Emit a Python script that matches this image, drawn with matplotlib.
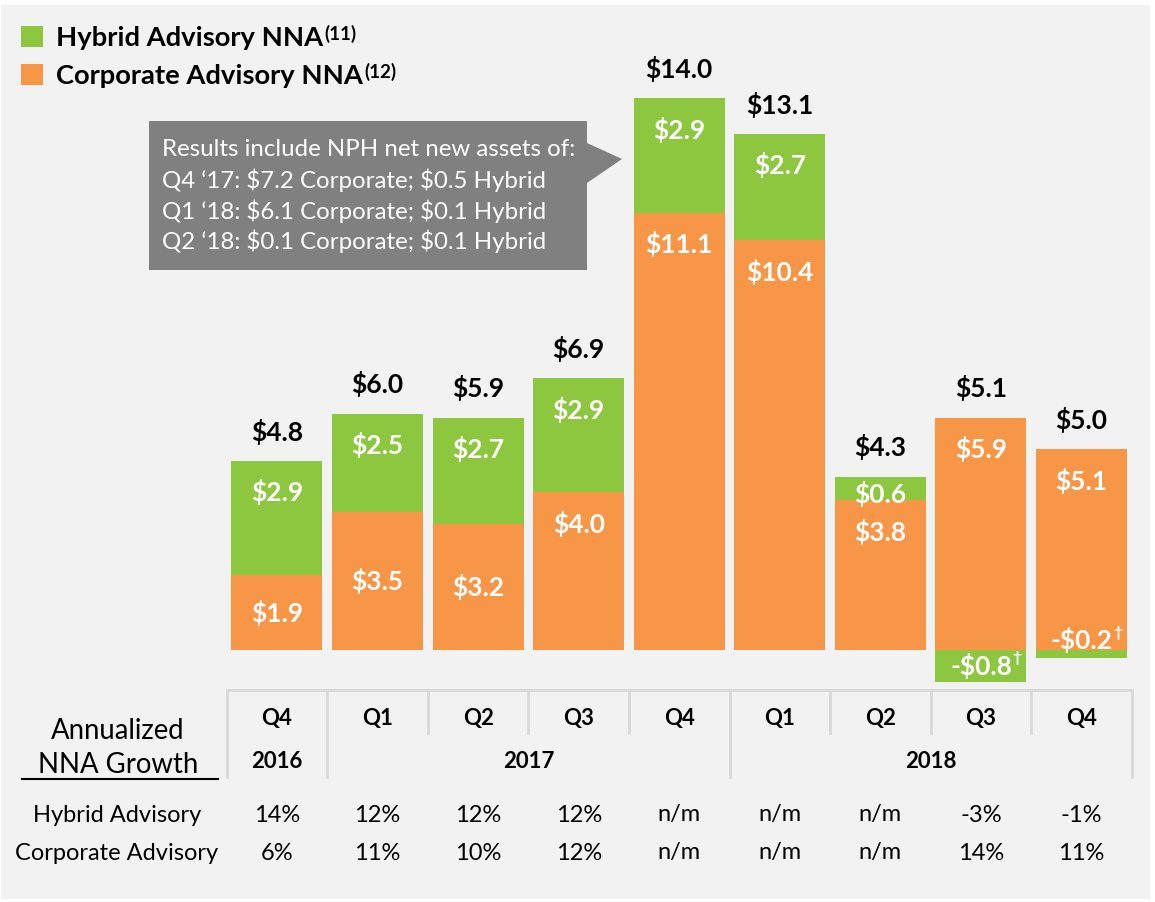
import matplotlib
matplotlib.use('Agg')
import matplotlib.pyplot as plt
from matplotlib.patches import Rectangle, Polygon
from matplotlib import transforms

plt.rcParams['font.family'] = ['Lato', 'DejaVu Sans']
plt.rcParams['text.parse_math'] = False

# data
quarters = ['Q4', 'Q1', 'Q2', 'Q3', 'Q4', 'Q1', 'Q2', 'Q3', 'Q4']
years = ['2016', '2017', '2017', '2017', '2017', '2018', '2018', '2018', '2018']
corporate = [1.9, 3.5, 3.2, 4.0, 11.1, 10.4, 3.8, 5.9, 5.1]
hybrid = [2.9, 2.5, 2.7, 2.9, 2.9, 2.7, 0.6, -0.8, -0.2]
totals = [4.8, 6.0, 5.9, 6.9, 14.0, 13.1, 4.3, 5.1, 5.0]
hybrid_growth = ['14%', '12%', '12%', '12%', 'n/m', 'n/m', 'n/m', '-3%', '-1%']
corporate_growth = ['6%', '11%', '10%', '12%', 'n/m', 'n/m', 'n/m', '14%', '11%']
footnote_flag = [False, False, False, False, False, False, False, True, True]
legend_labels = ['Hybrid Advisory NNA', 'Corporate Advisory NNA']
legend_notes = ['(11)', '(12)']
note_lines = ['Results include NPH net new assets of:',
              'Q4 \u201817: $7.2 Corporate; $0.5 Hybrid',
              'Q1 \u201818: $6.1 Corporate; $0.1 Hybrid',
              'Q2 \u201818: $0.1 Corporate; $0.1 Hybrid']

GREEN = '#8dc63f'
ORANGE = '#f79646'
BG = '#f2f2f2'
LINE = '#d9d9d9'

W, H = 1155, 902
fig = plt.figure(figsize=(W / 100, H / 100), dpi=100, facecolor='white')


def fx(x):
    return x / W


def fy(y):
    return 1 - y / H


# light grey panel with thin white frame
fig.patches.append(Rectangle((fx(1), fy(899)), fx(1150) - fx(1), fy(5) - fy(899),
                             transform=fig.transFigure, facecolor=BG, edgecolor='none', zorder=-5))

ax = fig.add_axes([fx(226.7), fy(709.1), fx(905.1), 669.8 / H])
ax.set_xlim(-0.5, 8.5)
ax.set_ylim(-1.5, 15.5)
ax.axis('off')

x = list(range(len(quarters)))
bw = 0.905
corp_bars = ax.bar(x, corporate, bw, color=ORANGE, edgecolor='none', zorder=2)
hyb_bottom = [c if h > 0 else 0 for c, h in zip(corporate, hybrid)]
hyb_bars = ax.bar(x, hybrid, bw, bottom=hyb_bottom, color=GREEN, edgecolor='none', zorder=2)

lab_kw = dict(ha='center', va='center', color='white', fontsize=19, fontweight='bold', zorder=4)
for i in x:
    c, h, t = corporate[i], hybrid[i], totals[i]
    top = c + max(h, 0)
    # total above stack
    ax.annotate(f'${t:.1f}', (i, top), xytext=(0, 21), textcoords='offset points',
                ha='center', va='center', fontsize=19, fontweight='bold', color='black')
    # corporate segment
    cy = c / 2 if c < 3.6 else c - 0.8
    ax.text(i, cy, f'${c:.1f}', **lab_kw)
    # hybrid segment
    if h > 0:
        ax.text(i, top - min(0.8, 0.75 * h), f'${h:.1f}', **lab_kw)
    else:
        hy = h / 2 if h < -0.5 else 0.25
        txt = ax.text(i, hy, f'-${abs(h):.1f}', **lab_kw)
        if footnote_flag[i]:
            ax.annotate('\u2020', xy=(1, 1), xycoords=txt, xytext=(0.5, 1), textcoords='offset points',
                        ha='left', va='top', color='white', fontsize=11, fontweight='bold', zorder=4)

# legend
leg = fig.legend([hyb_bars, corp_bars], legend_labels,
                 loc='upper left', bbox_to_anchor=(fx(21), fy(26)), bbox_transform=fig.transFigure,
                 frameon=False, prop={'weight': 'bold', 'size': 19.7}, handlelength=0.82,
                 handleheight=0.82, handletextpad=0.45, labelspacing=0.5, borderpad=0, borderaxespad=0)

# callout box
call = Polygon([(fx(149), fy(121)), (fx(587), fy(121)), (fx(587), fy(143)), (fx(622), fy(159)),
                (fx(587), fy(183)), (fx(587), fy(270)), (fx(149), fy(270))],
               closed=True, transform=fig.transFigure, facecolor='#808080', edgecolor='none', zorder=3)
fig.patches.append(call)
for k, line in enumerate(note_lines):
    fig.text(fx(162), fy(150 + 30.5 * k), line, ha='left', va='center', color='white', fontsize=17.3, zorder=4)

# table below
tr = transforms.blended_transform_factory(ax.transData, fig.transFigure)
ax.plot([-0.5, 8.5], [fy(690), fy(690)], transform=tr, color=LINE, lw=2, clip_on=False)
for i in range(len(quarters) + 1):
    xb = i - 0.5
    year_edge = i == 0 or i == len(quarters) or years[i] != years[i - 1]
    ax.plot([xb, xb], [fy(690), fy(777 if year_edge else 733)], transform=tr,
            color=LINE, lw=2, clip_on=False)

for i in x:
    ax.text(i, fy(718), quarters[i], transform=tr, ha='center', va='center',
            fontsize=16, fontweight='bold')
    ax.text(i, fy(815), hybrid_growth[i], transform=tr, ha='center', va='center', fontsize=17)
    ax.text(i, fy(853), corporate_growth[i], transform=tr, ha='center', va='center', fontsize=17)

for yr in sorted(set(years)):
    idx = [i for i in x if years[i] == yr]
    ax.text(sum(idx) / len(idx), fy(762), yr, transform=tr, ha='center', va='center',
            fontsize=16, fontweight='bold')

fig.text(fx(118), fy(731), 'Annualized', ha='center', va='center', fontsize=19.8)
fig.text(fx(118), fy(765), 'NNA Growth', ha='center', va='center', fontsize=19.8)
fig.lines.append(plt.Line2D([fx(22), fx(218)], [fy(779), fy(779)], transform=fig.transFigure,
                            color='black', lw=1.5))
fig.text(fx(117), fy(815), 'Hybrid Advisory', ha='center', va='center', fontsize=17)
fig.text(fx(117), fy(853), 'Corporate Advisory', ha='center', va='center', fontsize=17)

# superscript note markers after the legend text, placed once the layout is known
fig.canvas.draw()
inv = fig.transFigure.inverted()
for t, sup in zip(leg.get_texts(), legend_notes):
    bb = t.get_window_extent()
    px, py = inv.transform((bb.x1 + 2, bb.y1 + 1))
    fig.text(px, py, sup, ha='left', va='top', fontsize=13.5, fontweight='bold')

fig.savefig('out.png', dpi=100, facecolor='white')
